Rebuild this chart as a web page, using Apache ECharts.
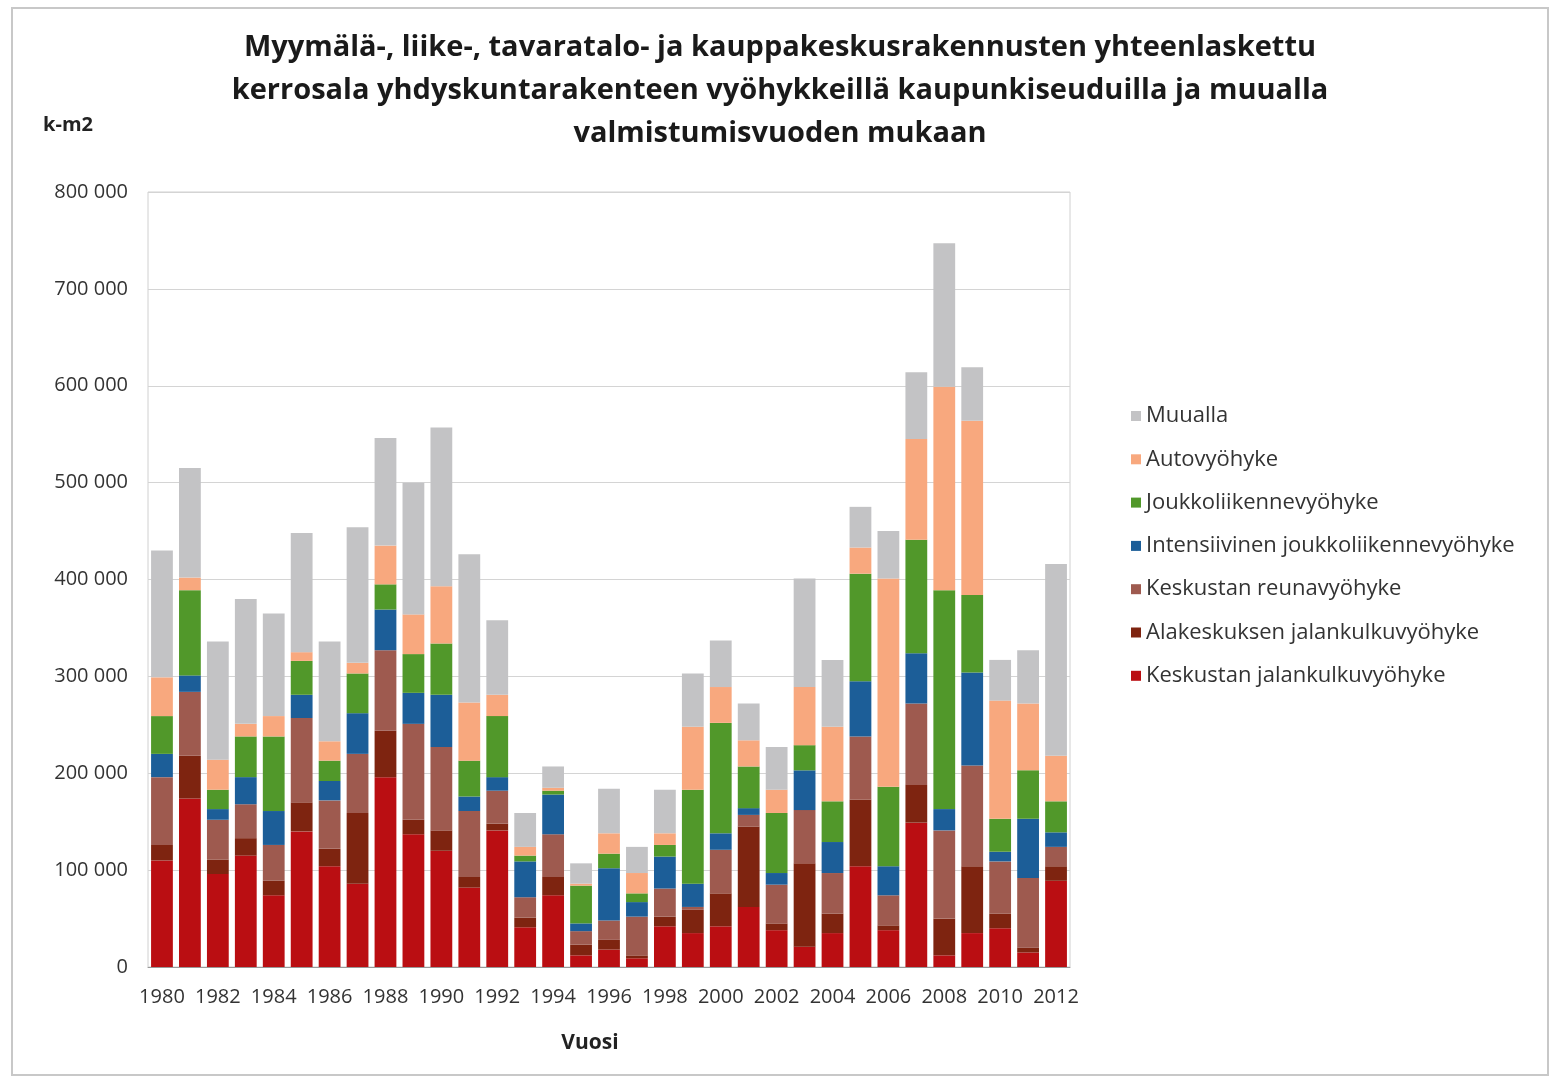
<!DOCTYPE html>
<html><head><meta charset="utf-8">
<script src="https://cdn.jsdelivr.net/npm/echarts@6/dist/echarts.min.js"></script>
<style>html,body{margin:0;padding:0;background:#fff}#c{width:1555px;height:1079px}</style>
</head><body><div id="c"></div>
<script>
const years = ['1980','1981','1982','1983','1984','1985','1986','1987','1988','1989','1990','1991','1992','1993','1994','1995','1996','1997','1998','1999','2000','2001','2002','2003','2004','2005','2006','2007','2008','2009','2010','2011','2012'];
// values in thousands of m2 (k-m2 / 1000)
const keskustanJalankulku = [110,174,96,115,74,140,104,86,196,137,120,82,141,41,74,12,18,9,42,35,42,62,38,21,35,104,38,149,12,35,40,15,89];
const alakeskuksenJalankulku = [16,44,15,18,15,30,18,73,48,15,21,11,7,10,19,11,10,3,10,24,34,83,7,86,20,69,5,39,38,69,15,5,15];
const keskustanReuna = [70,66,41,35,37,87,50,61,83,99,86,68,34,21,44,14,20,40,29,3,45,12,40,55,42,65,31,84,91,104,54,72,20];
const intensiivinen = [24,17,11,28,35,24,20,42,42,32,54,15,14,37,41,8,54,15,33,24,17,7,12,41,32,57,30,52,22,96,10,61,15];
const joukkoliikenne = [39,88,20,42,77,35,21,41,26,40,53,37,63,6,4,39,15,9,12,97,114,43,62,26,42,111,82,117,226,80,34,50,32];
const autovyohyke = [40,13,31,13,21,9,20,11,40,41,59,60,22,9,3,2,21,21,12,65,37,27,24,60,77,27,215,104,210,180,122,69,47];
const muualla = [131,113,122,129,106,123,103,140,111,136,164,153,77,35,22,21,46,27,45,55,48,38,44,112,69,42,49,69,148,55,42,55,198];
const yTicks = [0,100000,200000,300000,400000,500000,600000,700000,800000];

const seriesDefs = [
  {name:'Keskustan jalankulkuvyöhyke', data:keskustanJalankulku, color:'#BA0E12'},
  {name:'Alakeskuksen jalankulkuvyöhyke', data:alakeskuksenJalankulku, color:'#7E2410'},
  {name:'Keskustan reunavyöhyke', data:keskustanReuna, color:'#9E5A4F'},
  {name:'Intensiivinen joukkoliikennevyöhyke', data:intensiivinen, color:'#1C5E98'},
  {name:'Joukkoliikennevyöhyke', data:joukkoliikenne, color:'#51982A'},
  {name:'Autovyöhyke', data:autovyohyke, color:'#F8A87E'},
  {name:'Muualla', data:muualla, color:'#C3C3C5'}
];

const chart = echarts.init(document.getElementById('c'), null, {renderer:'canvas'});
const fmt = v => String(v).replace(/\B(?=(\d{3})+(?!\d))/g, ' ');
chart.setOption({
  animation:false,
  backgroundColor:'#fff',
  grid:{left:148, right:485, top:192, bottom:112, show:true, borderColor:'#d0d0d0', borderWidth:1},
  legend:{
    orient:'vertical', left:1126, top:400,
    data: seriesDefs.map(s=>s.name).reverse(),
    itemWidth:10, itemHeight:10, itemGap:21.3, icon:'rect',
    textStyle:{fontFamily:'Open Sans', fontSize:22, color:'#333', lineHeight:22}
  },
  xAxis:{
    type:'category', data:years,
    axisLine:{lineStyle:{color:'#999'}},
    axisTick:{show:false},
    axisLabel:{interval:1, fontFamily:'Open Sans', fontSize:20, color:'#333', margin:20}
  },
  yAxis:{
    type:'value', min:0, max:800000, interval:100000,
    axisLine:{show:false}, axisTick:{show:false},
    splitLine:{lineStyle:{color:'#d4d4d4'}},
    axisLabel:{fontFamily:'Open Sans', fontSize:20, color:'#333', margin:20, formatter:v=>fmt(v)}
  },
  series: seriesDefs.map(s=>({
    name:s.name, type:'bar', stack:'total', barCategoryGap:'22%',
    itemStyle:{color:s.color},
    data:s.data.map(v=>v*1000)
  })),
  graphic:[
    {type:'rect', shape:{x:12, y:8, width:1536, height:1067}, style:{fill:'none', stroke:'#c8c8c8', lineWidth:2}, silent:true},
    {type:'text', x:780, y:26, style:{text:'Myymälä-, liike-, tavaratalo- ja kauppakeskusrakennusten yhteenlaskettu\nkerrosala yhdyskuntarakenteen vyöhykkeillä kaupunkiseuduilla ja muualla\nvalmistumisvuoden mukaan', textAlign:'center', font:'bold 29px "Open Sans"', lineHeight:43, fill:'#1a1a1a'}},
    {type:'text', x:68, y:125, style:{text:'k-m2', textAlign:'center', textVerticalAlign:'middle', font:'bold 20px "Open Sans"', fill:'#222'}},
    {type:'text', x:590, y:1043, style:{text:'Vuosi', textAlign:'center', textVerticalAlign:'middle', font:'bold 21px "Open Sans"', fill:'#222'}}
  ]
});
</script></body></html>
